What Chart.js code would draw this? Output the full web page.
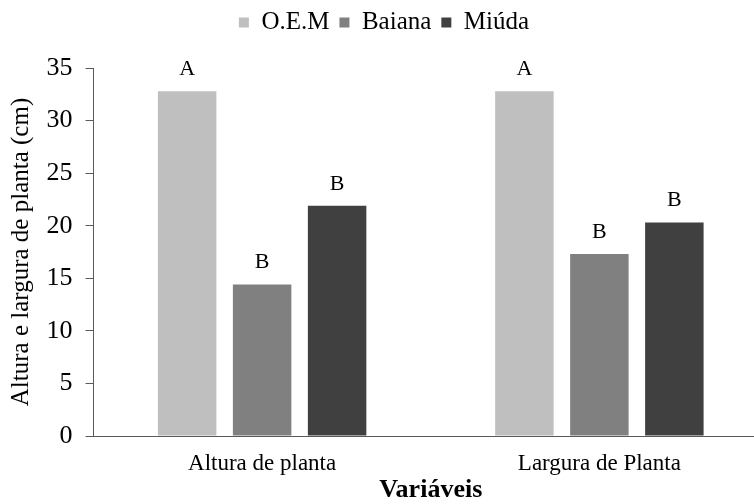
<!DOCTYPE html>
<html>
<head>
<meta charset="utf-8">
<script src="https://cdn.jsdelivr.net/npm/chart.js@4"></script>
<style>
  html, body { margin: 0; padding: 0; background: #fff; overflow: hidden; }
  #wrap { width: 754px; height: 504px; overflow: hidden; }
  #box { width: 780px; height: 504px; }
</style>
</head>
<body>
<div id="wrap"><div id="box"><canvas id="chart"></canvas></div></div>
<script>
const categories = ['Altura de planta', 'Largura de Planta'];
const seriesNames = ['O.E.M', 'Baiana', 'Miúda'];
const oemValues = [32.8, 32.8];
const baianaValues = [14.4, 17.3];
const miudaValues = [21.9, 20.3];
const oemLetters = ['A', 'A'];
const baianaLetters = ['B', 'B'];
const miudaLetters = ['B', 'B'];
const colors = ['#bfbfbf', '#808080', '#404040'];

const serif = 'Liberation Serif';
const axisColor = '#595959';
Chart.defaults.font.family = serif;
Chart.defaults.color = '#000';

// letters over each bar (significance groups)
const letterPlugin = {
    id: 'letters',
    afterDatasetsDraw(chart) {
        const ctx = chart.ctx;
        ctx.save();
        ctx.font = '22px "Liberation Serif"';
        ctx.fillStyle = '#000';
        ctx.textAlign = 'center';
        ctx.textBaseline = 'bottom';
        chart.data.datasets.forEach((ds, i) => {
            const meta = chart.getDatasetMeta(i);
            meta.data.forEach((bar, j) => {
                ctx.fillText(ds.letters[j], bar.x, bar.y - 11);
            });
        });
        ctx.restore();
    }
};

// fixed legend height so the plot starts where the original does
const legendHeight = {
    id: 'legendHeight',
    beforeInit(chart) {
        const fit = chart.legend.fit;
        chart.legend.fit = function () {
            fit.call(this);
            this.height = 68;
        };
    }
};

const ctx = document.getElementById('chart').getContext('2d');
const chart = new Chart(ctx, {
    type: 'bar',
    data: {
        labels: categories,
        datasets: [
            { label: seriesNames[0], data: oemValues, letters: oemLetters, backgroundColor: colors[0] },
            { label: seriesNames[1], data: baianaValues, letters: baianaLetters, backgroundColor: colors[1] },
            { label: seriesNames[2], data: miudaValues, letters: miudaLetters, backgroundColor: colors[2] }
        ]
    },
    options: {
        responsive: true,
        maintainAspectRatio: false,
        animation: false,
        categoryPercentage: 0.667,
        barPercentage: 0.78,
        layout: { padding: { top: 0, right: 12, left: 0, bottom: 0 } },
        plugins: {
            legend: {
                position: 'top',
                labels: {
                    font: { family: serif, size: 25 },
                    boxWidth: 10,
                    boxHeight: 10,
                    padding: 10
                }
            },
            tooltip: { enabled: false }
        },
        scales: {
            x: {
                grid: { display: false },
                border: { display: true, color: axisColor, width: 1 },
                ticks: { font: { family: serif, size: 23 }, padding: 6 },
                title: {
                    display: true,
                    text: 'Variáveis',
                    font: { family: serif, size: 26, weight: 'bold', lineHeight: 1.05 },
                    padding: { top: 0, bottom: 0 }
                },
                afterFit(scale) { scale.height = 68; }
            },
            y: {
                min: 0,
                max: 35,
                ticks: { stepSize: 5, font: { family: serif, size: 26 }, padding: 13 },
                grid: { drawOnChartArea: false, drawTicks: true, tickLength: 8, color: axisColor },
                border: { display: true, color: axisColor, width: 1 },
                title: {
                    display: true,
                    text: 'Altura e largura de planta (cm)',
                    font: { family: serif, size: 25 },
                    padding: { top: 6, bottom: 0 }
                },
                afterFit(scale) { scale.width = 93.5; }
            }
        }
    },
    plugins: [letterPlugin, legendHeight]
});
</script>
</body>
</html>
